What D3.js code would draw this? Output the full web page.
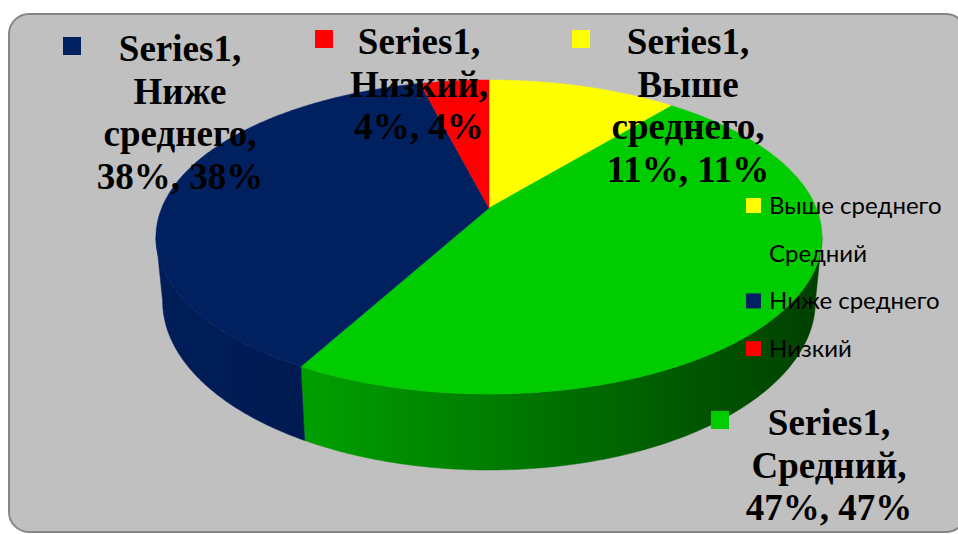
<!DOCTYPE html>
<html>
<head>
<meta charset="utf-8">
<script src="https://cdn.jsdelivr.net/npm/d3@7"></script>
<style>
  html, body { margin: 0; padding: 0; background: #fff; }
  svg { display: block; }
  .lbl { font-family: "Liberation Serif", "Times New Roman", serif; font-weight: bold; font-size: 37px; fill: #000; }
  .leg { font-family: Lato, "Open Sans", sans-serif; font-size: 24px; fill: #000; }
</style>
</head>
<body>
<svg id="chart" width="958" height="534"></svg>
<script>
// data
const seriesName = 'Series1';
const categories = ['Выше среднего', 'Средний', 'Ниже среднего', 'Низкий'];
const values = [11, 47, 38, 4];
const colors = ['#FFFF00', '#00CC00', '#002060', '#FF0000'];
// side (wall) gradient ends, light -> dark
const sideLight = ['#CCCC00', '#00BA00', '#001D58', '#CC0000'];
const sideDark = ['#666600', '#004000', '#001238', '#660000'];

const svg = d3.select('#chart');

// chart frame
svg.append('rect').attr('x', 9).attr('y', 14).attr('width', 957).attr('height', 518)
  .attr('rx', 20).attr('fill', '#C0C0C0').attr('stroke', '#868686').attr('stroke-width', 2);

// 3D pie with perspective: unit disc (X = sin a, Z = cos a, Z toward the back)
// projected as y = (ay + b Z) / (1 + c Z), x = cx + R X / (1 + c Z)
const P = { cx: 489, ay: 208, b: -113.2, c: 0.1847, R: 327.3, drop: 62, shrink: 0.98 };
const topPt = a => {
  const X = Math.sin(a), Z = Math.cos(a), w = 1 + P.c * Z;
  return [P.cx + P.R * X / w, (P.ay + P.b * Z) / w];
};
const botPt = a => {
  const X = Math.sin(a), Z = Math.cos(a), w = 1 + P.c * Z;
  return [P.cx + P.shrink * P.R * X / w, (P.ay + P.b * Z + P.drop) / w];
};
const arcPts = (f, a, b) => {
  const n = Math.max(2, Math.ceil(Math.abs(b - a) / 0.01));
  return d3.range(n + 1).map(i => f(a + (b - a) * i / n));
};
const line = d3.line();

const rows = categories.map((c, i) => ({ cat: c, value: values[i], i }));
const arcs = d3.pie().sort(null).value(d => d.value).startAngle(0).endAngle(2 * Math.PI)(rows);

const defs = svg.append('defs');
arcs.forEach(d => {
  const g = defs.append('linearGradient').attr('id', 'side' + d.data.i)
    .attr('gradientUnits', 'userSpaceOnUse')
    .attr('x1', P.cx - P.R).attr('x2', P.cx + P.R).attr('y1', 0).attr('y2', 0);
  g.append('stop').attr('offset', 0).attr('stop-color', sideLight[d.data.i]);
  g.append('stop').attr('offset', 1).attr('stop-color', sideDark[d.data.i]);
});

// walls: visible between the two silhouette tangents (widest points, cos a = -c)
const aR = Math.acos(-P.c), aL = 2 * Math.PI - aR;
const gSide = svg.append('g');
arcs.forEach(d => {
  const s = Math.max(d.startAngle, aR), e = Math.min(d.endAngle, aL);
  if (s >= e) return;
  const pts = arcPts(topPt, s, e).concat(arcPts(botPt, e, s));
  gSide.append('path').attr('d', line(pts) + 'Z').attr('fill', `url(#side${d.data.i})`)
    .attr('stroke', `url(#side${d.data.i})`).attr('stroke-width', 0.5);
});

// top faces
svg.append('g').selectAll('path').data(arcs).join('path')
  .attr('d', d => line([[P.cx, P.ay]].concat(arcPts(topPt, d.startAngle, d.endAngle))) + 'Z')
  .attr('fill', d => colors[d.data.i])
  .attr('stroke', d => colors[d.data.i]).attr('stroke-width', 0.5);

// data labels (Excel-style: series, category, value, percent)
const labelPos = {
  'Выше среднего': { x: 688, y: 54, mx: 572 },
  'Средний': { x: 829, y: 435, mx: 711 },
  'Ниже среднего': { x: 180, y: 61, mx: 63 },
  'Низкий': { x: 419, y: 54, mx: 315 },
};
const total = d3.sum(values);
const gLab = svg.append('g');
arcs.forEach(d => {
  const p = labelPos[d.data.cat];
  const pct = Math.round(d.data.value / total * 100) + '%';
  const words = d.data.cat.split(' ');
  words[words.length - 1] += ',';
  const lines = [seriesName + ','].concat(words, [`${pct}, ${pct}`]);
  gLab.append('rect').attr('x', p.mx).attr('y', p.y - 24).attr('width', 18).attr('height', 18)
    .attr('fill', colors[d.data.i]);
  const t = gLab.append('text').attr('class', 'lbl').attr('text-anchor', 'middle');
  lines.forEach((l, k) => t.append('tspan').attr('x', p.x).attr('y', p.y + k * 42.5).text(l));
});

// legend
const leg = svg.append('g').attr('transform', 'translate(746,198)');
categories.forEach((c, i) => {
  const g = leg.append('g').attr('transform', `translate(0,${i * 47.7})`);
  g.append('rect').attr('width', 15).attr('height', 15).attr('fill', colors[i]);
  g.append('text').attr('class', 'leg').attr('x', 23).attr('y', 16).text(c);
});
</script>
</body>
</html>
